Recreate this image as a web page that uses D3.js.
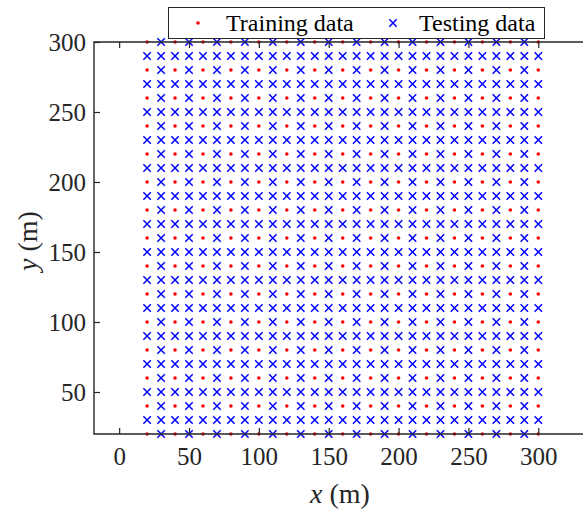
<!DOCTYPE html>
<html>
<head>
<meta charset="utf-8">
<script src="https://cdn.jsdelivr.net/npm/d3@7"></script>
<style>
  body { margin: 0; background: #fff; }
  text { font-family: "Liberation Serif", "Times New Roman", serif; }
</style>
</head>
<body>
<svg id="chart" width="583" height="514"></svg>
<script>
// grid coordinates (m)
var gridX = d3.range(20, 301, 10);
var gridY = d3.range(20, 301, 10);
var xTicks = [0, 50, 100, 150, 200, 250, 300];
var yTicks = [50, 100, 150, 200, 250, 300];
var legendLabels = ["Training data", "Testing data"];

// training points: every other column on every other row, rest is testing
var trainPts = [], testPts = [];
gridY.forEach(function(yv, j){
  gridX.forEach(function(xv, i){
    if (i % 2 === 0 && j % 2 === 0) trainPts.push([xv, yv]);
    else testPts.push([xv, yv]);
  });
});

var svg = d3.select("#chart");
var mLeft = 94, mRight = 583, mTop = 42, mBottom = 434;

var x = d3.scaleLinear().domain([-18, 332]).range([mLeft, mRight]);
var y = d3.scaleLinear().domain([20, 300]).range([mBottom, mTop]);

function cross(cx, cy, s){
  return "M" + (cx - s) + "," + (cy - s) + "L" + (cx + s) + "," + (cy + s) +
    "M" + (cx - s) + "," + (cy + s) + "L" + (cx + s) + "," + (cy - s);
}

// points
var gPts = svg.append("g");
gPts.selectAll("path.test")
  .data(testPts)
  .enter().append("path")
  .attr("class", "test")
  .attr("d", function(d){ return cross(x(d[0]), y(d[1]), 3.7); })
  .attr("stroke", "#0000ff")
  .attr("stroke-width", 1.5)
  .attr("fill", "none");
gPts.selectAll("circle.train")
  .data(trainPts)
  .enter().append("circle")
  .attr("class", "train")
  .attr("cx", function(d){ return x(d[0]); })
  .attr("cy", function(d){ return y(d[1]); })
  .attr("r", 1.8)
  .attr("fill", "#ff0000");

// axes
var tick = 6;
var xAxis = d3.axisBottom(x).tickValues(xTicks).tickSize(-tick).tickPadding(13);
var xAxisTop = d3.axisTop(x).tickValues(xTicks).tickSize(-tick).tickFormat("");
var yAxis = d3.axisLeft(y).tickValues(yTicks).tickSize(-tick).tickPadding(8);

function style(g){
  g.attr("font-family", null).attr("font-size", null);
  g.select(".domain").remove();
  g.selectAll("line").attr("stroke", "#262626").attr("stroke-width", 1.2);
  g.selectAll("text").attr("fill", "#262626").style("font-size", "25px");
}
svg.append("g").attr("transform", "translate(0," + mBottom + ")").call(xAxis).call(style);
svg.append("g").attr("transform", "translate(0," + mTop + ")").call(xAxisTop).call(style);
svg.append("g").attr("transform", "translate(" + mLeft + ",0)").call(yAxis).call(style);

svg.append("path")
  .attr("d", "M" + mRight + "," + mTop + "H" + mLeft + "V" + mBottom + "H" + mRight)
  .attr("fill", "none")
  .attr("stroke", "#262626")
  .attr("stroke-width", 1.4);

// axis labels
var xl = svg.append("text")
  .attr("x", 340).attr("y", 503)
  .attr("text-anchor", "middle")
  .style("font-size", "28px")
  .attr("fill", "#262626");
xl.append("tspan").style("font-style", "italic").text("x");
xl.append("tspan").text(" (m)");

var yl = svg.append("text")
  .attr("transform", "translate(37,241) rotate(-90)")
  .attr("text-anchor", "middle")
  .style("font-size", "28px")
  .attr("fill", "#262626");
yl.append("tspan").style("font-style", "italic").text("y");
yl.append("tspan").text(" (m)");

// legend
var lg = svg.append("g");
lg.append("rect")
  .attr("x", 168.5).attr("y", 7.5)
  .attr("width", 376).attr("height", 31)
  .attr("fill", "#fff")
  .attr("stroke", "#262626")
  .attr("stroke-width", 1);
lg.append("circle").attr("cx", 198).attr("cy", 23).attr("r", 1.8).attr("fill", "#ff0000");
lg.append("path")
  .attr("d", cross(393, 23, 3.7))
  .attr("stroke", "#0000ff").attr("stroke-width", 1.5);
lg.selectAll("text.lab")
  .data(legendLabels)
  .enter().append("text")
  .attr("class", "lab")
  .attr("x", function(d, i){ return i === 0 ? 226 : 419; })
  .attr("y", 31)
  .style("font-size", "24px")
  .attr("fill", "#000")
  .text(function(d){ return d; });
</script>
</body>
</html>
